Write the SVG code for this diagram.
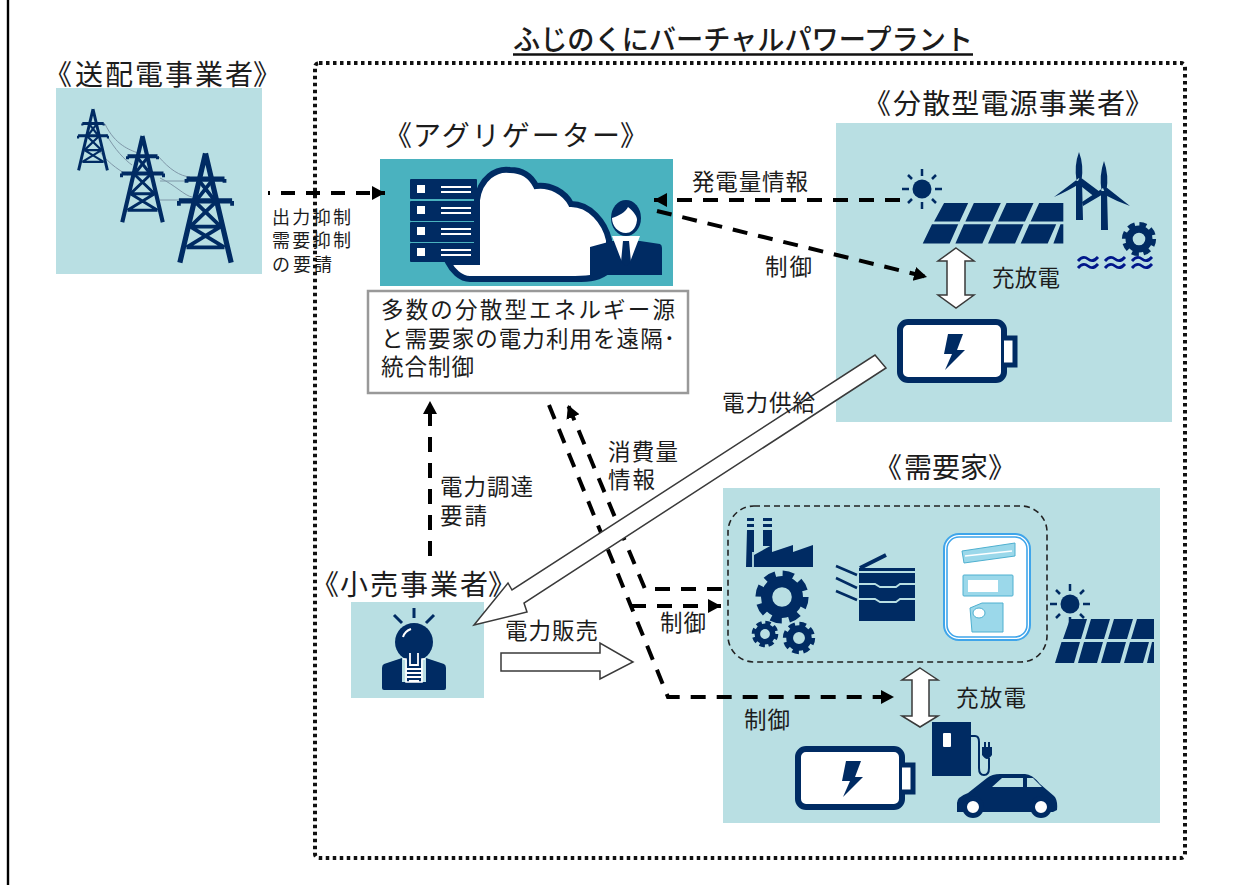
<svg xmlns="http://www.w3.org/2000/svg" width="1236" height="885" viewBox="0 0 1236 885">
<style>
text{font-family:"Noto Sans CJK JP","Noto Sans CJK SC",sans-serif;fill:#1c1c1c}
.h{font-size:28px}
.m{font-size:22.500px}
.s{font-size:18px}
.panel{fill:#b9dfe3}
.navy{fill:#002b63}
.d{fill:none;stroke:#000;stroke-width:4;stroke-dasharray:15 11}
.big{fill:#fff;stroke:#3a3a3a;stroke-width:1.5;stroke-linejoin:miter}
</style>
<defs>
<marker id="ah" markerUnits="userSpaceOnUse" markerWidth="16" markerHeight="16" refX="13" refY="7" orient="auto"><path d="M0 0L13 7L0 14Z" fill="#000"/></marker>
<symbol id="tower" viewBox="0 0 60 118" overflow="visible">
<g fill="none" stroke="#002b63" stroke-width="4" stroke-linejoin="round">
<path d="M30 1L3 116M30 1L57 116" stroke-width="5.500"/>
<path d="M10 28H50M2 51H58" stroke-width="5.500"/>
<path d="M10 28v4M50 28v4M2 51v5M58 51v5"/>
<path d="M22 28L40 51M38 28L20 51M18 51L46 78M42 51L14 78M14 78H46M14 78L50 100M46 78L10 100M10 100H50"/>
</g>
</symbol>
<symbol id="solar" viewBox="0 0 96 44" overflow="visible">
<g fill="#002b63">
<path d="M12 0H29L23 20H5ZM33 0H52L46 20H27ZM56 0H75L69 20H50ZM79 0H96V20H73Z"/>
<path d="M3.500 23H22L16 44H-3ZM26 23H45L39 44H20ZM49 23H68L62 44H43ZM72 23H91L85 44H66ZM94 23H96V44H89Z"/>
</g>
</symbol>
<symbol id="sun" viewBox="-20 -20 40 40" overflow="visible">
<circle r="9.500" fill="#002b63"/>
<path d="M0-20V-13M0 20V13M-20 0H-13M20 0H13M-14-14L-10-10M14-14L10-10M-14 14L-10 10M14 14L10 10" stroke="#002b63" stroke-width="2.500" fill="none"/>
</symbol>
<symbol id="gear" viewBox="-20 -20 40 40" overflow="visible">
<circle r="11" fill="none" stroke="#002b63" stroke-width="8"/>
<circle r="16" fill="none" stroke="#002b63" stroke-width="6" stroke-dasharray="7.560 5"/>
</symbol>
<symbol id="battery" viewBox="0 0 122 64" overflow="visible">
<rect x="3" y="3" width="104" height="58" rx="8" fill="#fff" stroke="#002b63" stroke-width="6"/>
<path d="M107 19H118V46H107" fill="#fff" stroke="#002b63" stroke-width="5"/>
<path d="M51 15H66L60 31H68L48 51L55 35H47Z" fill="#002b63"/>
</symbol>
</defs>
<rect width="1236" height="885" fill="#fff"/>
<path d="M8 0V885" stroke="#000" stroke-width="2.400"/>

<g id="title">
<text class="h" x="513" y="50" textLength="460" lengthAdjust="spacingAndGlyphs" font-weight="500">ふじのくにバーチャルパワープラント</text>
<path d="M513 54.500H973" stroke="#111" stroke-width="2.400"/>
</g>
<rect id="vpp-frame" x="315" y="63" width="870" height="795" rx="4" fill="none" stroke="#111" stroke-width="4" stroke-dasharray="3.500 3.500"/>

<g id="transmission-operator">
<text class="h" y="85"><tspan x="44">《</tspan><tspan x="75" textLength="178">送配電事業者</tspan><tspan x="253">》</tspan></text>
<rect class="panel" x="56" y="88" width="206" height="186"/>
<g fill="none" stroke="#7f97a8" stroke-width="1">
<path d="M105 124C115 145 130 150 138 153M106 134C115 150 125 160 132 165M100 152C110 165 122 172 128 175"/>
<path d="M158 156C170 170 180 176 190 177M160 178C175 185 185 196 192 197M160 181H185M160 200H185"/>
</g>
<use href="#tower" x="77" y="107" width="32" height="66"/>
<use href="#tower" x="120" y="135" width="45" height="89"/>
<use href="#tower" x="177" y="150" width="57" height="117"/>
</g>

<g id="aggregator">
<text class="h" y="146"><tspan x="384">《</tspan><tspan x="413" textLength="207">アグリゲーター</tspan><tspan x="620">》</tspan></text>
<rect x="380" y="159" width="293" height="127" fill="#4ab2bf"/>
<path d="M477 200C480 178 496 168 510 170C524 170 532 178 536 186C550 184 565 192 571 204C590 204 605 222 609 240V270C600 278 590 279 575 279H470C460 279 452 270 448 262H477Z" fill="#fff" stroke="#002b63" stroke-width="6"/>
<g class="navy">
<rect x="410" y="179" width="67" height="20" rx="1"/>
<rect x="410" y="201" width="67" height="20" rx="1"/>
<rect x="410" y="222" width="67" height="20" rx="1"/>
<rect x="410" y="243" width="67" height="19" rx="1"/>
</g>
<g fill="#fff">
<rect x="417" y="185" width="8" height="8"/><rect x="441" y="186" width="30" height="2"/><rect x="441" y="191" width="30" height="2"/>
<rect x="417" y="206" width="8" height="8"/><rect x="441" y="207" width="30" height="2"/><rect x="441" y="212" width="30" height="2"/>
<rect x="417" y="227" width="8" height="8"/><rect x="441" y="228" width="30" height="2"/><rect x="441" y="233" width="30" height="2"/>
<rect x="417" y="248" width="8" height="8"/><rect x="441" y="249" width="30" height="2"/><rect x="441" y="254" width="30" height="2"/>
</g>
<path d="M590 247L612 241H640L660 244Q662 245 662 248V275H590Z" class="navy"/>
<path d="M612 236L622 262L626 241L630 262L640 236Z" fill="#fff"/>
<path d="M623 241H629L631 262L626 266L621 262Z" class="navy"/>
<ellipse cx="626" cy="218" rx="15" ry="18" fill="#002b63"/>
<path d="M612 218C618 216 626 212 628 207C634 212 637 216 637 220C636 230 630 233 626 233C618 233 612 226 612 218Z" fill="#fff"/>
<rect x="368" y="291" width="320" height="102" fill="#fff" stroke="#999" stroke-width="2.500"/>
<g class="m">
<text x="381" y="318" textLength="294">多数の分散型エネルギー源</text>
<text x="381" y="347" textLength="294">と需要家の電力利用を遠隔･</text>
<text x="381" y="375" textLength="93">統合制御</text>
</g>
</g>

<g id="distributed-operator">
<text class="h" y="114"><tspan x="863">《</tspan><tspan x="893" textLength="232">分散型電源事業者</tspan><tspan x="1125">》</tspan></text>
<rect class="panel" x="836" y="123" width="336" height="299"/>
<use href="#sun" x="902" y="169" width="40" height="40"/>
<g transform="translate(927 203) scale(1.420 .92)"><use href="#solar" width="96" height="44"/></g>
<g fill="#002b63">
<path d="M1076 181H1082L1083 220H1076ZM1101 191H1107L1108 230H1101Z"/>
<path d="M1079 152Q1084 165 1081.500 181H1076.500Q1074 165 1079 152ZM1079 178L1054 197Q1066 192 1081 183ZM1080 177L1100 192L1096 198L1077 183Z"/>
<path d="M1104 161Q1109 175 1106.500 191H1101.500Q1099 175 1104 161ZM1103 188L1082 202L1083 206L1105 193ZM1106 187L1130 206Q1116 201 1103 194Z"/>
</g>
<use href="#gear" x="1121" y="221" width="36" height="36"/>
<g fill="none" stroke="#00178a" stroke-width="2.800">
<path d="M1078 261q5-6 10-2t10-2M1078 268q5-6 10-2t10-2M1105 261q5-6 10-2t10-2M1105 268q5-6 10-2t10-2M1132 261q5-6 10-2t10-2M1132 268q5-6 10-2t10-2"/>
</g>
<path class="big" d="M956 248L974 261H965V295H974L956 308L938 295H947V261H938Z"/>
<text class="m" x="992" y="286" textLength="68">充放電</text>
<use href="#battery" x="897" y="319" width="122" height="64"/>
</g>

<g id="consumer">
<text class="h" y="478"><tspan x="874">《</tspan><tspan x="904" textLength="84">需要家</tspan><tspan x="988">》</tspan></text>
<rect class="panel" x="723" y="488" width="437" height="335"/>
<rect x="728" y="506" width="319" height="156" rx="26" fill="none" stroke="#222" stroke-width="1.600" stroke-dasharray="6 4"/>
<path class="navy" d="M747 518H754V521H747ZM747 524H754V527H747ZM747 530H754V555L772 545V552L793 545V552L813 545V567H746ZM763 518H772V521H763ZM763 524H772V527H763ZM763 530H772V546H763Z"/>
<path d="M753 552V567" stroke="#b9dfe3" stroke-width="1.800"/>
<use href="#gear" x="754" y="569" width="56" height="56"/>
<use href="#gear" x="751" y="620" width="28" height="28"/>
<use href="#gear" x="782" y="621" width="34" height="34"/>
<g stroke="#002b63" fill="none" stroke-width="2.500"><path d="M836 566L857 575M836 578L857 588M836 591L857 600"/><path d="M860 568L886 555" stroke-width="4"/></g>
<path class="navy" d="M859 568H915V621H859Z"/>
<path d="M859 572H915M859 584H875L880 587H896L900 584H915M859 599H875L880 602H896L900 599H915" fill="none" stroke="#b9dfe3" stroke-width="1.800"/>
<rect x="944" y="534" width="86" height="106" rx="15" fill="#fff" stroke="#3fa5ea" stroke-width="2"/>
<rect x="947" y="537" width="80" height="100" rx="12" fill="#fff" stroke="#3fa5ea" stroke-width="1.600"/>
<g fill="#9bd8ea" stroke="#4eb0d0" stroke-width="1">
<path d="M962 551L1015 543V556L964 563Z"/>
<rect x="963" y="575" width="50" height="21" rx="1"/>
<path d="M970 608L982 603H1003V632H972Z"/>
</g>
<path d="M965 556L1012 551" stroke="#fff" stroke-width="1.500"/>
<rect x="968" y="580" width="30" height="12" fill="#fff"/>
<ellipse cx="979" cy="613" rx="6" ry="5" fill="#fff" stroke="#4eb0d0"/>
<use href="#sun" x="1050" y="584" width="40" height="40"/>
<use href="#solar" x="1058" y="619" width="96" height="44"/>
<path class="big" d="M920 668L938 680H929V716H938L920 727L902 716H912V680H902Z"/>
<text class="m" x="956" y="706" textLength="70">充放電</text>
<use href="#battery" x="795" y="746" width="122" height="64"/>
<rect class="navy" x="932" y="722" width="39" height="54"/>
<rect x="943" y="733" width="8" height="14" rx="1" fill="#fff"/>
<path d="M971 736H975Q979 736 979 742V768Q979 775 984 775Q989 775 989 768V758" fill="none" stroke="#002b63" stroke-width="2"/>
<path class="navy" d="M984 742h2v5h2v-5h2v5h2v8q-3 4-5 4t-5-4v-8h2Z"/>
<path class="navy" d="M957 812V803Q957 797 968 793L987 778Q992 774 1000 774H1025Q1032 774 1040 784L1054 796Q1058 800 1057 810L1053 812Z"/>
<path d="M992 787L1002 778H1023V787ZM1027 778H1033L1042 787H1027Z" fill="#b9dfe3"/>
<circle cx="973" cy="807" r="8.500" fill="#fff" stroke="#002b63" stroke-width="5"/>
<circle cx="1041" cy="807" r="8.500" fill="#fff" stroke="#002b63" stroke-width="5"/>
</g>

<g id="retailer">
<text class="h" y="595"><tspan x="311">《</tspan><tspan x="340" textLength="148">小売事業者</tspan><tspan x="488">》</tspan></text>
<rect class="panel" x="351" y="602" width="133" height="96"/>
<path class="navy" d="M384 664L402 658V690H384Q382 690 382 688V668Q382 665 384 664ZM426 658L444 664Q446 665 446 668V688Q446 690 444 690H384V682H426Z"/>
<circle cx="414" cy="642" r="19" fill="#002b63"/>
<path d="M404 650L407 657V682H421V657L424 650Z" fill="#002b63" stroke="#b9dfe3" stroke-width="0"/>
<path d="M403 659H406V682H422V659H425" fill="none" stroke="#fff" stroke-width="1.500"/>
<path d="M410 653V665H418V653" fill="none" stroke="#fff" stroke-width="1.800"/>
<path d="M406 669H422M406 673H422M407 677H421M409 681H419" stroke="#fff" stroke-width="1.800"/>
<path d="M403 637Q405 631 411 629" stroke="#fff" stroke-width="2" fill="none"/>
<path d="M414 608V618M394 615L402 623M434 615L426 623" stroke="#002b63" stroke-width="3" fill="none"/>
</g>

<g id="connectors">
<path d="M268 193H385" fill="none" stroke="#000" stroke-width="4" stroke-dasharray="14 11" stroke-dashoffset="12" marker-end="url(#ah)"/>
<path class="d" d="M900 200H654" marker-end="url(#ah)"/>
<path class="d" d="M657 211L927 277" marker-end="url(#ah)"/>
<path class="d" d="M430 556V401" marker-end="url(#ah)"/>
<path class="d" d="M722 589H645L568 405" marker-end="url(#ah)"/>
<path class="d" d="M549 405L668 697H894" marker-end="url(#ah)"/>
<path class="d" d="M631 606H721" marker-end="url(#ah)"/>
<path class="big" d="M875 355L886 368L524 603L527 612L474 625L508 583L512 590Z"/>
<path class="big" d="M501 653H600V643L633 662L600 679V671H501Z"/>
</g>

<g id="labels">
<g class="s">
<text x="272" y="224" textLength="79">出力抑制</text>
<text x="272" y="247" textLength="79">需要抑制</text>
<text x="272" y="271" textLength="60">の要請</text>
</g>
<g class="m">
<text x="692" y="190" textLength="116">発電量情報</text>
<text x="765" y="275" textLength="47">制御</text>
<text x="722" y="411" textLength="93">電力供給</text>
<text x="608" y="460" textLength="70">消費量</text>
<text x="608" y="488" textLength="47">情報</text>
<text x="440" y="495" textLength="93">電力調達</text>
<text x="440" y="524" textLength="47">要請</text>
<text x="505" y="639" textLength="93">電力販売</text>
<text x="660" y="631" textLength="46">制御</text>
<text x="744" y="728" textLength="46">制御</text>
</g>
</g>
</svg>
